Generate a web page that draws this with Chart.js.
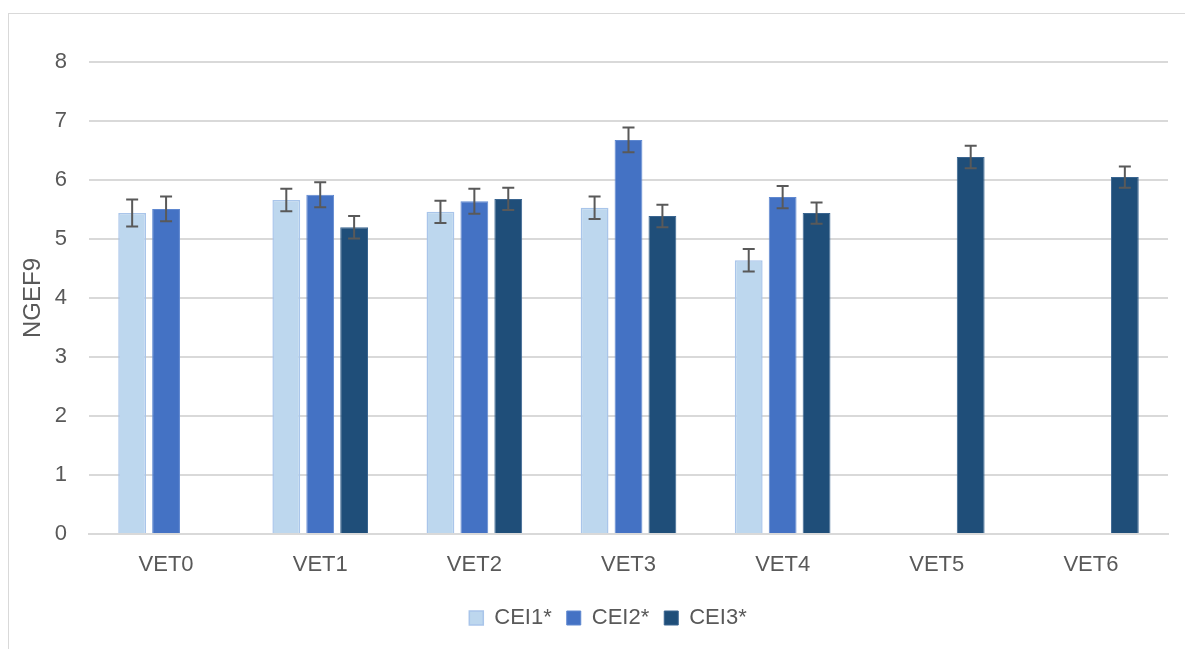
<!DOCTYPE html>
<html>
<head>
<meta charset="utf-8">
<script src="https://cdn.jsdelivr.net/npm/chart.js@4"></script>
<style>
  html, body { margin: 0; padding: 0; background: #fff; overflow: hidden; }
  #frame { position: absolute; left: 8px; top: 13px; width: 1200px; height: 700px; border: 1px solid #d9d9d9; box-sizing: border-box; }
  #wrap { position: absolute; left: 0; top: 0; width: 1185px; height: 649px; }
</style>
</head>
<body>
<div id="frame"></div>
<div id="wrap"><canvas id="chart" width="1185" height="649"></canvas></div>
<script>
// categories and series
const categories = ['VET0', 'VET1', 'VET2', 'VET3', 'VET4', 'VET5', 'VET6'];
const cei1 = [5.44, 5.66, 5.46, 5.53, 4.64, null, null];
const cei2 = [5.51, 5.75, 5.64, 6.68, 5.71, null, null];
const cei3 = [null, 5.20, 5.68, 5.39, 5.44, 6.39, 6.05];
// error bar half-widths
const cei1Err = [0.23, 0.19, 0.19, 0.19, 0.19, null, null];
const cei2Err = [0.21, 0.21, 0.21, 0.21, 0.19, null, null];
const cei3Err = [null, 0.19, 0.19, 0.19, 0.18, 0.19, 0.18];
const yTicks = [0, 1, 2, 3, 4, 5, 6, 7, 8];

const FONT = 'Liberation Sans, Arial, sans-serif';
const TXT = '#595959';

const errorBars = {
  id: 'errorBars',
  afterDatasetsDraw(chart) {
    const ctx = chart.ctx;
    const y = chart.scales.y;
    ctx.save();
    ctx.strokeStyle = '#595959';
    ctx.lineWidth = 2;
    chart.data.datasets.forEach((ds, di) => {
      const meta = chart.getDatasetMeta(di);
      meta.data.forEach((bar, i) => {
        const v = ds.data[i], e = ds.err[i];
        if (v == null || e == null) return;
        const top = y.getPixelForValue(v + e), bot = y.getPixelForValue(v - e);
        const x = bar.x;
        ctx.beginPath();
        ctx.moveTo(x, top); ctx.lineTo(x, bot);
        ctx.moveTo(x - 6, top); ctx.lineTo(x + 6, top);
        ctx.moveTo(x - 6, bot); ctx.lineTo(x + 6, bot);
        ctx.stroke();
      });
    });
    ctx.restore();
  }
};

// nudge legend right so it sits under the plot like the original
const legendShift = {
  id: 'legendShift',
  afterLayout(chart) {
    if (chart.legend) { chart.legend.left += 24; chart.legend.right += 24; }
  }
};

new Chart(document.getElementById('chart'), {
  type: 'bar',
  data: {
    labels: categories,
    datasets: [
      { label: 'CEI1*', data: cei1, err: cei1Err, backgroundColor: '#bdd7ee', borderColor: '#a9c5ea', borderWidth: 1.5 },
      { label: 'CEI2*', data: cei2, err: cei2Err, backgroundColor: '#4472c4', borderColor: '#5f88d0', borderWidth: 1 },
      { label: 'CEI3*', data: cei3, err: cei3Err, backgroundColor: '#1f4e79', borderColor: '#3a6590', borderWidth: 1 }
    ]
  },
  options: {
    responsive: false,
    animation: false,
    categoryPercentage: 0.66,
    barPercentage: 0.82,
    layout: { padding: { top: 62, right: 17, bottom: 10, left: 0 } },
    plugins: {
      legend: {
        position: 'bottom',
        labels: { color: TXT, font: { family: FONT, size: 22 }, boxWidth: 14, boxHeight: 14, padding: 15 }
      },
      tooltip: { enabled: false }
    },
    scales: {
      x: {
        grid: { display: false, drawTicks: false },
        border: { color: '#d9d9d9', width: 2 },
        ticks: { color: TXT, font: { family: FONT, size: 22 }, padding: 18 },
        afterFit: (s) => { s.height = 58; }
      },
      y: {
        min: 0, max: 8,
        afterBuildTicks: (s) => { s.ticks = yTicks.map(v => ({ value: v })); },
        grid: { color: '#d9d9d9', lineWidth: 2, drawTicks: false },
        border: { display: false },
        ticks: { color: TXT, font: { family: FONT, size: 22 }, padding: 22 },
        title: { display: true, text: 'NGEF9', color: TXT, font: { family: FONT, size: 24 }, padding: { top: 19, bottom: 0 } },
        afterFit: (s) => { s.width = 89; }
      }
    }
  },
  plugins: [errorBars, legendShift]
});
</script>
</body>
</html>
